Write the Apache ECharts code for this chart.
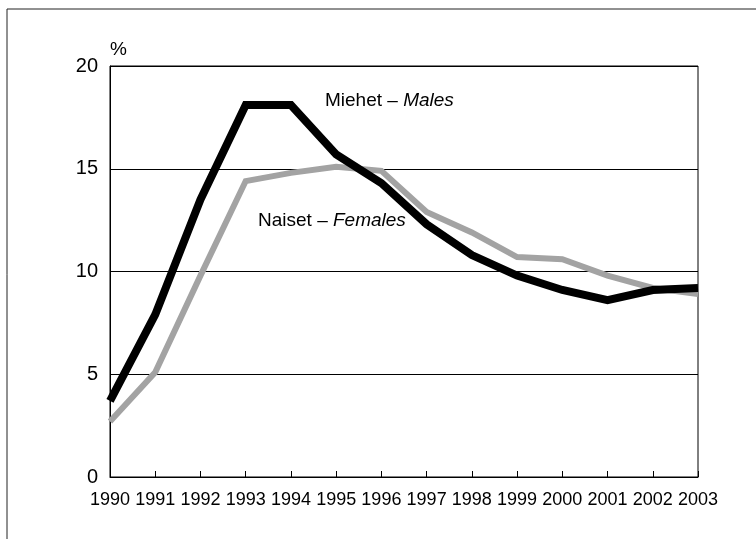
<!DOCTYPE html>
<html>
<head>
<meta charset="utf-8">
<script src="https://cdn.jsdelivr.net/npm/echarts@6/dist/echarts.min.js"></script>
<style>
    html, body { margin: 0; padding: 0; background: #fff; }
    #chart { width: 756px; height: 539px; }
</style>
</head>
<body>
<div id="chart"></div>
<script>
    // vuodet - years
    var years = ['1990','1991','1992','1993','1994','1995','1996','1997','1998','1999','2000','2001','2002','2003'];
    // Miehet - Males (%)
    var males = [3.7, 7.9, 13.5, 18.1, 18.1, 15.7, 14.3, 12.3, 10.8, 9.8, 9.1, 8.6, 9.1, 9.2];
    // Naiset - Females (%)
    var females = [2.7, 5.1, 9.8, 14.4, 14.8, 15.1, 14.9, 12.9, 11.9, 10.7, 10.6, 9.8, 9.2, 8.9];
    var yTicks = [0, 5, 10, 15, 20];

    var font = '"Liberation Sans", Arial, sans-serif';
    var chart = echarts.init(document.getElementById('chart'));

    chart.setOption({
        animation: false,
        backgroundColor: '#fff',
        grid: {
            left: 110,
            right: 58,
            top: 66,
            bottom: 62,
            show: true,
            borderColor: '#000',
            borderWidth: 1
        },
        xAxis: {
            type: 'category',
            boundaryGap: false,
            data: years,
            axisLine: { lineStyle: { color: '#000', width: 1 } },
            axisTick: { inside: true, length: 6, lineStyle: { color: '#000' } },
            axisLabel: { color: '#000', fontSize: 18, fontFamily: font, margin: 14, interval: 0 },
            splitLine: { show: false }
        },
        yAxis: {
            type: 'value',
            min: yTicks[0],
            max: yTicks[yTicks.length - 1],
            interval: 5,
            axisLine: { show: true, lineStyle: { color: '#000', width: 1 } },
            axisTick: { show: false },
            axisLabel: { color: '#000', fontSize: 20, fontFamily: font, margin: 12 },
            splitLine: { lineStyle: { color: '#000', width: 1 } }
        },
        graphic: [
            {
                type: 'rect',
                shape: { x: 7, y: 9, width: 800, height: 600 },
                style: { fill: 'none', stroke: '#222', lineWidth: 1 },
                silent: true
            },
            {
                type: 'text', left: 110, top: 40,
                style: { text: '%', fill: '#000', font: '19px ' + font }
            },
            {
                type: 'text', left: 325, top: 91,
                style: {
                    text: '{n|Miehet – }{i|Males}',
                    rich: {
                        n: { fill: '#000', fontSize: 19, fontFamily: font },
                        i: { fill: '#000', fontSize: 19, fontFamily: font, fontStyle: 'italic' }
                    }
                }
            },
            {
                type: 'text', left: 258, top: 211,
                style: {
                    text: '{n|Naiset – }{i|Females}',
                    rich: {
                        n: { fill: '#000', fontSize: 19, fontFamily: font },
                        i: { fill: '#000', fontSize: 19, fontFamily: font, fontStyle: 'italic' }
                    }
                }
            }
        ],
        series: [
            {
                name: 'Naiset - Females',
                type: 'line',
                data: females,
                symbol: 'none',
                lineStyle: { color: '#a3a3a3', width: 6, join: 'miter' }
            },
            {
                name: 'Miehet - Males',
                type: 'line',
                data: males,
                symbol: 'none',
                lineStyle: { color: '#000', width: 8, join: 'miter' }
            }
        ]
    });
</script>
</body>
</html>
